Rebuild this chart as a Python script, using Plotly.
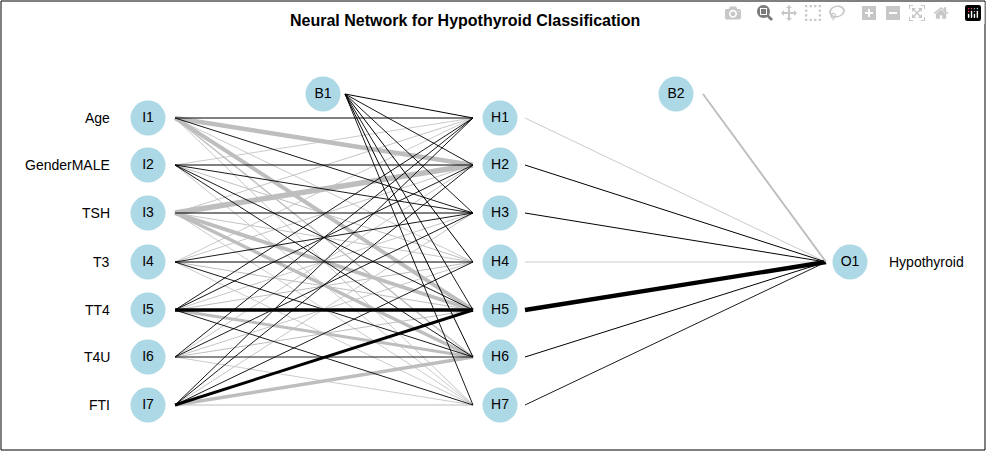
import plotly.graph_objects as go

inputs = ["Age", "GenderMALE", "TSH", "T3", "TT4", "T4U", "FTI"]
output_label = "Hypothyroid"
# weights input->hidden (rows I1..I7, cols H1..H7); positive=black, negative=grey
w_ih = [
    [0.6, -4.0, 0.5, -0.4, -3.5, -1.0, -0.5],
    [-0.4, 0.6, 0.5, -0.6, 0.5, 0.5, -0.4],
    [-0.5, -5.0, 0.6, -0.5, -3.5, -3.0, -0.4],
    [-0.4, -0.5, 0.5, 0.6, -0.6, 0.5, -0.4],
    [0.5, 0.5, -0.5, -0.6, 3.0, -2.5, 0.5],
    [0.5, -0.5, 0.5, -0.5, -0.6, 0.5, -0.4],
    [0.5, 0.5, -0.5, 0.5, 2.5, -3.0, -0.7],
]
w_b1 = [0.6, 0.5, 0.5, 0.6, 0.5, 0.6, 0.5]
w_ho = [-0.4, 0.6, 0.6, -0.4, 4.0, 0.6, 0.5]
w_b2 = -1.5

ys = [118, 165, 213, 262, 310, 357, 405]
xi, xh, xo = 148, 500, 850
r = 17
bx1, by1, bx2, by2 = 323, 94, 676, 94
yo = 262

def col(w):
    return "black" if w > 0 else "#bebebe"

def wid(w):
    return 0.4 + abs(w) * 1.0

fig = go.Figure()
def edge(x0, y0, x1, y1, w):
    fig.add_trace(go.Scatter(x=[x0, x1], y=[y0, y1], mode="lines",
                             line=dict(color=col(w), width=wid(w)), hoverinfo="skip"))

order = sorted([(i, j) for i in range(7) for j in range(7)], key=lambda t: w_ih[t[0]][t[1]] > 0)
for i, j in order:
    edge(xi + r + 10, ys[i], xh - r - 10, ys[j], w_ih[i][j])
for j in range(7):
    edge(bx1 + r + 5, by1, xh - r - 10, ys[j], w_b1[j])
for j in range(7):
    edge(xh + r + 8, ys[j], xo - r - 7, yo, w_ho[j])
edge(bx2 + r + 10, by2, xo - r - 7, yo, w_b2)

nx = [xi] * 7 + [xh] * 7 + [bx1, bx2, xo]
ny = ys + ys + [by1, by2, yo]
nt = [f"I{k+1}" for k in range(7)] + [f"H{k+1}" for k in range(7)] + ["B1", "B2", "O1"]
fig.add_trace(go.Scatter(x=nx, y=ny, mode="markers+text", text=nt,
                         marker=dict(size=35, color="lightblue", line=dict(width=0)),
                         textfont=dict(size=14, color="black", family="Liberation Sans"),
                         textposition="middle center", hoverinfo="skip"))
for k, lab in enumerate(inputs):
    fig.add_annotation(x=112, y=ys[k], text=lab, showarrow=False, xanchor="right",
                       font=dict(size=14, family="Liberation Sans", color="black"))
fig.add_annotation(x=887, y=yo, text=output_label, showarrow=False, xanchor="left",
                   font=dict(size=14, family="Liberation Sans", color="black"))
fig.add_annotation(x=465, y=20, text="<b>Neural Network for Hypothyroid Classification</b>",
                   showarrow=False, font=dict(size=16, family="Liberation Sans", color="black"))
fig.add_shape(type="rect", x0=1, y0=1, x1=985, y1=450, line=dict(color="black", width=1))

fig.update_layout(width=987, height=452, margin=dict(l=0, r=0, t=0, b=0),
                  plot_bgcolor="white", paper_bgcolor="white", showlegend=False,
                  xaxis=dict(range=[0, 987], visible=False),
                  yaxis=dict(range=[452, 0], visible=False))
fig.write_html("out.html")
with open("out.html", encoding="utf-8") as f:
    html = f.read()
html = html.replace("<head>", "<head><style>html,body{margin:0;padding:0;overflow:hidden;}</style>", 1)
with open("out.html", "w", encoding="utf-8") as f:
    f.write(html)
